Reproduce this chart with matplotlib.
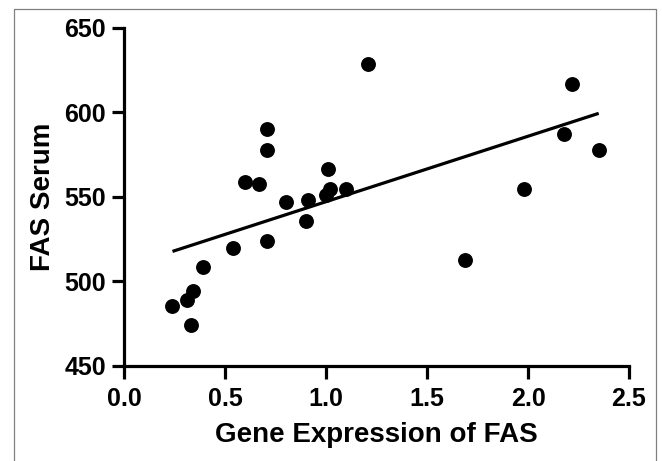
import matplotlib
matplotlib.use("Agg")
import matplotlib.pyplot as plt
from matplotlib.lines import Line2D
import numpy as np

gene_expr = [0.24, 0.31, 0.34, 0.33, 0.39, 0.54, 0.60, 0.67, 0.71, 0.71, 0.71, 0.80,
             0.90, 0.91, 1.00, 1.01, 1.02, 1.10, 1.21, 1.69, 1.98, 2.18, 2.22, 2.35]
fas_serum = [485.5, 489, 494.5, 474, 508.5, 520, 559, 557.5, 590, 578, 524, 547,
             536, 548.5, 551, 566.5, 555, 555, 628.5, 512.5, 555, 587, 617, 578]
fit_x = [0.24, 2.35]
fit_y = [517.8, 599.5]
x_ticks = [0.0, 0.5, 1.0, 1.5, 2.0, 2.5]
x_ticklabels = ["0.0", "0.5", "1.0", "1.5", "2.0", "2.5"]
y_ticks = [450, 500, 550, 600, 650]
y_ticklabels = ["450", "500", "550", "600", "650"]

plt.rcParams['font.family'] = ['Liberation Sans', 'DejaVu Sans']
plt.rcParams['font.weight'] = 'bold'

fig = plt.figure(figsize=(6.62, 4.61), dpi=100)
ax = fig.add_axes([124/662, 1-366/461, (629-124)/662, (366-28)/461])

ax.scatter(gene_expr, fas_serum, s=115, color='black', zorder=3, linewidths=0)
ax.plot(fit_x, fit_y, color='black', lw=2.3, solid_capstyle='butt', zorder=2)

ax.set_xlim(0, 2.5)
ax.set_ylim(450, 650)
ax.set_xticks(x_ticks)
ax.set_xticklabels(x_ticklabels)
ax.set_yticks(y_ticks)
ax.set_yticklabels(y_ticklabels)

for side in ['top', 'right']:
    ax.spines[side].set_visible(False)
for side in ['left', 'bottom']:
    ax.spines[side].set_linewidth(2.3)
    ax.spines[side].set_capstyle('projecting')

ax.tick_params(axis='both', direction='out', length=9, width=2.3, labelsize=18, colors='black')
ax.tick_params(axis='x', pad=6)
ax.tick_params(axis='y', pad=4)
for lbl in ax.get_xticklabels() + ax.get_yticklabels():
    lbl.set_fontweight('bold')

ax.set_xlabel("Gene Expression of FAS", fontsize=20, fontweight='bold', labelpad=8)
ax.set_ylabel("FAS Serum", fontsize=20, fontweight='bold', labelpad=6)

# outer frame
bx0, bx1, by1 = 14/662, 655.5/662, 1-9/461
fig.add_artist(Line2D([bx0, bx0, bx1, bx1], [0, by1, by1, 0], transform=fig.transFigure,
                      color='#808080', lw=0.9))

fig.savefig("out.png", dpi=100)
